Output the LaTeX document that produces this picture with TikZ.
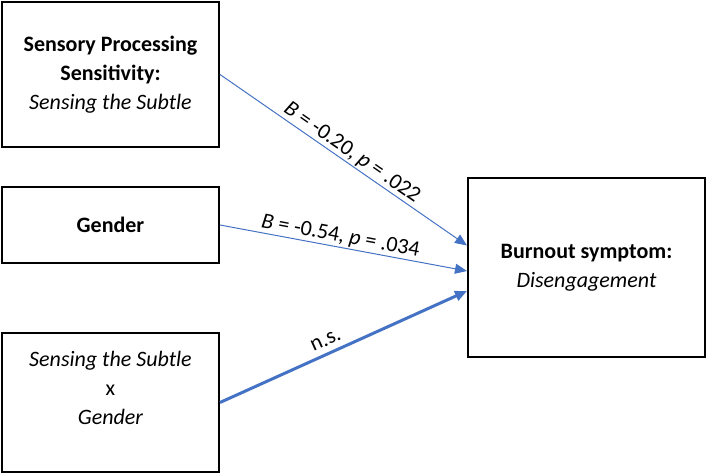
\documentclass[tikz,border=0pt]{standalone}
\usepackage{fontspec}
\setmainfont{Carlito}
\usetikzlibrary{arrows.meta}

\definecolor{pathblue}{HTML}{4472C4}

\begin{document}
\begin{tikzpicture}[x=0.5pt, y=-0.5pt, align=center,
  font=\fontsize{11}{14.5}\selectfont,
  box/.style={draw, line width=1pt, rectangle, inner sep=0pt},
  path/.style={pathblue, line width=0.5pt, -{Triangle[length=6pt, width=5pt]}},
  boldpath/.style={path, line width=1.5pt},
  est/.style={sloped, above, black, inner sep=0.5pt}]

\useasboundingbox (0, 0) rectangle (708, 475);

\node[box, minimum width=108.5pt, minimum height=72.5pt] (sps) at (110.5, 74.5)
  {\textbf{Sensory Processing}\\ \textbf{Sensitivity:}\\ \textit{Sensing the Subtle}};
\node[box, minimum width=108.5pt, minimum height=38pt] (gender) at (110.5, 225)
  {\textbf{Gender}};
\node[box, minimum width=108.5pt, minimum height=69.5pt] (inter) at (110.5, 402.5)
  {\textit{Sensing the Subtle}\\ x\\ \textit{Gender}\\ ~};
\node[box, minimum width=118.5pt, minimum height=89.5pt] (burnout) at (586.5, 267.5)
  {\textbf{Burnout symptom:}\\ \textit{Disengagement}};

\draw[path] (sps.east) -- node[est, pos=0.51] {\textit{B} = -0.20, \textit{p} = .022} ([yshift=11pt]burnout.west);
\draw[path] (gender.east) -- node[est, pos=0.48] {\textit{B} = -0.54, \textit{p} = .034} ([yshift=-1.75pt]burnout.west);
\draw[boldpath] (inter.east) -- node[est, pos=0.45, inner sep=3pt] {n.s.} ([yshift=-11.75pt]burnout.west);

\end{tikzpicture}
\end{document}
